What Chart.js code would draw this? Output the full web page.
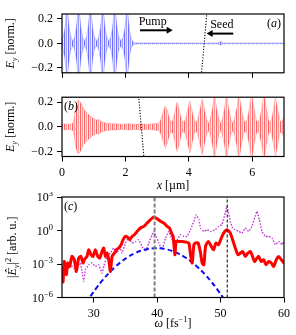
<!DOCTYPE html>
<html>
<head>
<meta charset="utf-8">
<script src="https://cdn.jsdelivr.net/npm/chart.js@4.4.1/dist/chart.umd.min.js"></script>
<style>
  html, body { margin: 0; padding: 0; background: #fff; }
  #wrap { position: relative; width: 296px; height: 335px; }
  canvas { position: absolute; left: 0; }
</style>
</head>
<body>
<div id="wrap">
  <canvas id="panelA" width="296" height="84" style="top:0px"></canvas>
  <canvas id="panelB" width="296" height="106" style="top:86px"></canvas>
  <canvas id="panelC" width="296" height="143" style="top:192px"></canvas>
</div>
<script>
// ---- panel (a): pump + seed field, envelope of E_y [norm.] vs x [um]
const pumpX = [0, 0.04, 0.09, 0.13, 0.158, 0.19, 0.23, 0.28, 0.34,
  0.40, 0.45, 0.49, 0.524, 0.56, 0.60, 0.65, 0.71,
  0.77, 0.82, 0.86, 0.894, 0.93, 0.97, 1.02, 1.09,
  1.16, 1.21, 1.25, 1.283, 1.32, 1.36, 1.41, 1.47,
  1.54, 1.59, 1.63, 1.662, 1.70, 1.74, 1.79, 1.86,
  1.93, 1.98, 2.02, 2.05, 2.09, 2.13, 2.18, 2.24, 2.30,
  4.90, 4.95, 5.00, 5.05, 5.10, 7.00];
const pumpAmp = [0.035, 0.055, 0.12, 0.22, 0.34, 0.22, 0.12, 0.05, 0.02,
  0.05, 0.12, 0.22, 0.34, 0.22, 0.12, 0.05, 0.02,
  0.05, 0.12, 0.22, 0.34, 0.22, 0.12, 0.05, 0.02,
  0.05, 0.12, 0.22, 0.34, 0.22, 0.12, 0.05, 0.02,
  0.05, 0.12, 0.22, 0.34, 0.22, 0.12, 0.05, 0.02,
  0.05, 0.12, 0.22, 0.32, 0.20, 0.10, 0.04, 0.012, 0.004,
  0.003, 0.008, 0.014, 0.008, 0.003, 0.003];
// dotted density profile (a)
const profAX = [0, 4.40, 4.49, 4.57];
const profAY = [-0.24, -0.24, 0.02, 0.25];

// ---- panel (b): transmitted / amplified field envelope
const sigX = [0, 0.1, 0.2, 0.3, 0.36, 0.40, 0.44, 0.49, 0.53, 0.58, 0.65, 0.72, 0.80, 0.90,
  1.00, 1.08, 1.15, 1.22, 1.30, 1.40, 1.55, 1.70, 1.90, 2.10, 2.30, 2.50, 2.70, 2.90, 3.05,
  3.12, 3.19, 3.26, 3.33, 3.40, 3.45,
  3.50, 3.57, 3.63, 3.70, 3.77, 3.83,
  3.89, 3.96, 4.03, 4.10, 4.17, 4.22,
  4.28, 4.35, 4.42, 4.49, 4.56, 4.61,
  4.67, 4.74, 4.81, 4.88, 4.95, 5.00,
  5.05, 5.12, 5.19, 5.26, 5.33, 5.38,
  5.44, 5.51, 5.58, 5.65, 5.72, 5.78,
  5.84, 5.91, 5.98, 6.05, 6.12, 6.17,
  6.23, 6.30, 6.37, 6.44, 6.51, 6.56,
  6.61, 6.67, 6.73, 6.80, 6.86, 6.91, 6.96, 7.00];
const sigAmp = [0.02, 0.025, 0.02, 0.025, 0.035, 0.10, 0.17, 0.21, 0.215, 0.20, 0.16, 0.13, 0.11, 0.085,
  0.065, 0.055, 0.06, 0.045, 0.035, 0.03, 0.025, 0.025, 0.02, 0.025, 0.02, 0.025, 0.02, 0.025, 0.03,
  0.06, 0.12, 0.17, 0.12, 0.055, 0.03,
  0.06, 0.13, 0.20, 0.13, 0.055, 0.03,
  0.06, 0.13, 0.21, 0.13, 0.055, 0.03,
  0.06, 0.14, 0.225, 0.14, 0.06, 0.03,
  0.06, 0.14, 0.26, 0.14, 0.06, 0.03,
  0.06, 0.14, 0.26, 0.14, 0.06, 0.03,
  0.06, 0.15, 0.27, 0.15, 0.06, 0.03,
  0.06, 0.15, 0.27, 0.15, 0.06, 0.03,
  0.06, 0.15, 0.27, 0.15, 0.06, 0.03,
  0.06, 0.14, 0.24, 0.14, 0.06, 0.035, 0.06, 0.09];
const profBX = [0, 2.42, 2.50, 2.58, 7.0];
const profBY = [0.24, 0.24, 0.0, -0.24, -0.24];

const xTicksAB = [0, 2, 4, 6];
const xTickLabelsAB = ['0', '2', '4', '6'];
const yTicksAB = [-0.2, 0, 0.2];
const yTickLabelsAB = ['\u22120.2', '0.0', '0.2'];

// ---- panel (c): spectra, log10 of |E_y|^2 [arb. u.] vs omega [fs^-1]
const redW = [25.0, 25.16, 25.36, 25.68, 25.89, 26.2, 26.57, 26.94, 27.26, 27.63, 27.99, 28.31,
  28.52, 28.94, 29.21, 29.58, 29.89, 30.26, 30.63, 30.94, 31.31, 31.58, 31.84, 32.1, 32.37,
  32.63, 32.9, 33.26, 33.58, 33.95, 34.32, 34.63, 35.0, 35.37, 35.68, 36.05, 36.42, 36.84,
  37.37, 37.9, 38.42, 38.95, 39.47, 40.0, 40.53, 41.05, 41.58, 41.95, 42.26, 42.53, 42.79,
  43.0, 43.42, 43.95, 44.47, 45.0, 45.26, 45.53, 45.79, 46.05, 46.47, 46.84, 47.1, 47.37,
  47.63, 48.05, 48.53, 48.9, 49.27, 49.69, 50.11, 50.48, 51.0, 51.53, 51.9, 52.32, 52.74,
  53.11, 53.48, 53.9, 54.32, 54.69, 54.95, 55.37, 55.74, 56.0, 56.42, 56.79, 57.16, 57.58,
  58.0, 58.37, 58.79, 59.16, 59.58, 60.0];
const redExp = [-3.5, -4.6, -2.77, -3.96, -2.91, -3.22, -2.32, -2.62, -3.67, -2.47, -2.32, -2.91,
  -2.62, -2.32, -1.72, -2.17, -2.32, -1.72, -2.32, -2.47, -1.87, -1.57, -2.32, -2.02, -2.62,
  -3.67, -2.32, -2.02, -1.72, -1.57, -1.27, -0.83, -0.53, -0.62, -0.83, -0.53, -0.38, -0.08,
  0.22, 0.37, 0.67, 0.97, 1.21, 1.06, 0.82, 0.67, 0.37, 0.22, -0.23, -0.53, -2.17,
  -0.98, -0.98, -0.98, -1.03, -1.12, -2.17, -2.91, -1.27, -1.12, -1.12, -2.02, -2.91, -3.07,
  -1.42, -0.98, -1.42, -1.72, -1.12, -1.27, -0.68, -0.23, 0.07, -0.23, -0.83, -1.57, -2.17,
  -2.02, -1.87, -2.32, -2.02, -1.87, -2.17, -2.77, -2.47, -2.32, -2.77, -2.62, -3.07, -2.77,
  -2.91, -3.22, -2.62, -2.32, -2.62, -2.91];
const magW = [25.26, 25.78, 26.31, 26.84, 27.36, 27.89, 28.15, 28.42, 28.68, 29.21, 29.73, 30.26,
  30.79, 31.31, 31.58, 32.1, 32.63, 33.15, 33.68, 34.1, 34.47, 35.0, 35.53, 36.05, 36.58, 37.1,
  37.63, 38.16, 38.68, 39.21, 39.47, 39.84, 40.26, 40.79, 41.32, 41.84, 42.26, 42.63, 43.16,
  43.68, 44.21, 44.74, 45.26, 45.79, 46.16, 46.58, 46.84, 47.37, 47.9, 48.42, 49.16, 49.69,
  50.21, 50.74, 51.0, 51.27, 51.53, 51.9, 52.32, 52.85, 53.37, 53.9, 54.42, 54.95, 55.37,
  55.74, 56.11, 56.53, 57.06, 57.58, 58.11, 58.63, 59.16, 59.69, 60.0];
const magExp = [-3.22, -3.67, -3.07, -3.37, -3.22, -2.91, -3.67, -4.56, -3.52, -3.07, -2.91, -3.22,
  -3.07, -3.82, -3.22, -2.32, -2.02, -1.57, -2.02, -1.42, -2.02, -1.12, -0.68, -1.12, -1.0, -0.83,
  -1.42, -1.87, -1.12, -0.38, -0.08, -0.53, -1.12, -1.72, -0.68, -0.08, -0.68, -1.12, -0.83,
  -0.38, -0.53, -0.53, 0.07, 0.82, 1.41, 0.97, 0.22, -0.08, 0.07, -0.08, 0.07, 0.37,
  0.52, 1.57, 2.16, 1.57, 0.82, 0.22, 0.07, -0.08, -0.23, 0.22, -0.08, 0.37, 1.12,
  1.71, 0.97, -0.08, -0.53, -0.53, -0.68, -1.27, -0.98, -1.27, -0.98];
const gaussW = [28.8, 29.5, 30.5, 31.5, 32.5, 33.5, 34.5, 35.5, 36.5, 37.5, 38.5, 39.5, 40.5,
  41.5, 42.5, 43.5, 44.5, 45.5, 46.5, 47.5, 48.5, 49.5, 50.5, 51.2];
const gaussExp = [-6.48, -5.88, -5.09, -4.38, -3.75, -3.20, -2.73, -2.34, -2.03, -1.80, -1.66, -1.59,
  -1.60, -1.69, -1.86, -2.11, -2.44, -2.85, -3.34, -3.91, -4.56, -5.29, -6.10, -6.71];
const markW = [39.6, 51.05];

const xTicksC = [30, 40, 50, 60];
const yTicksC = [1e-6, 1e-3, 1, 1e3];
const yTickExpC = ['\u22126', '\u22123', '0', '3'];

const FONT = 'Liberation Serif';
const FS = 12;

// draw a run of text pieces: style 'i' italic, 'b' subscript, 'p' superscript
function drawRich(ctx, segs, x, y, align) {
  let w = 0;
  const parts = segs.map(([t, st]) => {
    const small = st.includes('b') || st.includes('p');
    const font = (st.includes('i') ? 'italic ' : '') + (small ? FS * 0.7 : FS) + 'px "' + FONT + '"';
    ctx.font = font;
    const p = { t, font, x: w, dy: st.includes('b') ? FS * 0.25 : st.includes('p') ? -FS * 0.4 : 0 };
    w += ctx.measureText(t).width;
    return p;
  });
  const x0 = align === 'right' ? x - w : align === 'center' ? x - w / 2 : x;
  ctx.textAlign = 'left';
  ctx.textBaseline = 'alphabetic';
  ctx.fillStyle = '#000';
  parts.forEach(p => { ctx.font = p.font; ctx.fillText(p.t, x0 + p.x, y + p.dy); });
}

function drawArrow(ctx, x1, x2, y) {
  const dir = Math.sign(x2 - x1);
  ctx.save();
  ctx.strokeStyle = '#000';
  ctx.fillStyle = '#000';
  ctx.lineWidth = 2;
  ctx.beginPath();
  ctx.moveTo(x1, y);
  ctx.lineTo(x2 - dir * 5, y);
  ctx.stroke();
  ctx.beginPath();
  ctx.moveTo(x2, y);
  ctx.lineTo(x2 - dir * 6, y - 3.5);
  ctx.lineTo(x2 - dir * 6, y + 3.5);
  ctx.closePath();
  ctx.fill();
  ctx.restore();
}

// vertical striped fill, mimics the unresolved carrier oscillation
function stripes(colors) {
  const c = document.createElement('canvas');
  c.width = colors.length;
  c.height = 1;
  const g = c.getContext('2d');
  colors.forEach((col, i) => { g.fillStyle = col; g.fillRect(i, 0, 1, 1); });
  return g.createPattern(c, 'repeat');
}

const titleE = [['E', 'i'], ['y', 'ib'], [' [norm.]', '']];
const titleX = [['x', 'i'], [' [\u00b5m]', '']];
const titleSpec = [['|', ''], ['\u00ca', 'i'], ['y', 'ib'], ['|', ''], ['2', 'p'], [' [arb. u.]', '']];
const titleW = [['\u03c9', 'i'], [' [fs', ''], ['\u22121', 'p'], [']', '']];

function frame(extra) {
  return {
    id: 'frame',
    afterDraw(chart) {
      const { ctx, chartArea: a } = chart;
      ctx.save();
      ctx.strokeStyle = '#000';
      ctx.lineWidth = 1.2;
      ctx.strokeRect(a.left, a.top, a.right - a.left, a.bottom - a.top);
      extra(chart, ctx, a);
      ctx.restore();
    }
  };
}

function yTitle(ctx, segs, x, a) {
  ctx.save();
  ctx.translate(x, (a.top + a.bottom) / 2);
  ctx.rotate(-Math.PI / 2);
  drawRich(ctx, segs, 0, 0, 'center');
  ctx.restore();
}

function xScale(min, max, ticks, labels, height) {
  return {
    type: 'linear', min, max,
    afterBuildTicks: s => { s.ticks = ticks.map(v => ({ value: v })); },
    afterFit: s => { s.height = height; },
    grid: { drawOnChartArea: false, tickLength: 5, tickColor: '#000', tickWidth: 1 },
    border: { display: false },
    ticks: {
      display: !!labels, color: '#000', padding: 4, maxRotation: 0, autoSkip: false,
      font: { family: FONT, size: FS },
      callback: (v, i) => labels ? labels[i] : ''
    }
  };
}

function yLinScale() {
  return {
    type: 'linear', min: -0.24, max: 0.24,
    afterBuildTicks: s => { s.ticks = yTicksAB.map(v => ({ value: v })); },
    afterFit: s => { s.width = 62; },
    grid: { drawOnChartArea: false, tickLength: 5, tickColor: '#000', tickWidth: 1 },
    border: { display: false },
    ticks: {
      color: '#000', padding: 4, font: { family: FONT, size: FS },
      callback: (v, i) => yTickLabelsAB[i]
    }
  };
}

const common = {
  responsive: false, animation: false, devicePixelRatio: 1, events: [],
  plugins: { legend: { display: false }, tooltip: { enabled: false } },
  elements: { point: { radius: 0 }, line: { tension: 0 } }
};

function band(xs, amps, line, fillc) {
  return [
    { data: xs.map((x, i) => ({ x, y: amps[i] })), borderColor: line, backgroundColor: fillc,
      borderWidth: 0.6, fill: '+1' },
    { data: xs.map((x, i) => ({ x, y: -amps[i] })), borderColor: line, borderWidth: 0.6, fill: false }
  ];
}

function profile(xs, ys) {
  return { data: xs.map((x, i) => ({ x, y: ys[i] })), borderColor: '#000', borderWidth: 1.1,
    borderDash: [1.2, 1.6], fill: false };
}

const blueFill = stripes(['rgba(70,70,255,0.8)', 'rgba(160,160,255,0.4)', 'rgba(110,110,255,0.65)', 'rgba(200,200,255,0.3)']);
const redFill = stripes(['rgba(255,60,60,0.8)', 'rgba(255,160,160,0.4)', 'rgba(255,105,105,0.65)', 'rgba(255,200,200,0.3)']);

// panel (a)
new Chart(document.getElementById('panelA'), {
  type: 'line',
  data: { datasets: [profile(profAX, profAY), ...band(pumpX, pumpAmp, 'rgba(120,120,255,0.7)', blueFill)] },
  options: {
    ...common,
    layout: { padding: { left: 0, right: 12, top: 14, bottom: 0 } },
    scales: { x: xScale(0, 7, xTicksAB, null, 4), y: yLinScale() }
  },
  plugins: [frame((chart, ctx, a) => {
    const sx = chart.scales.x, sy = chart.scales.y;
    yTitle(ctx, titleE, 14, a);
    drawRich(ctx, [['(', ''], ['a', 'i'], [')', '']], a.right - 3, a.top + 13, 'right');
    drawRich(ctx, [['Pump', '']], sx.getPixelForValue(2.86), sy.getPixelForValue(0.148), 'center');
    drawRich(ctx, [['Seed', '']], sx.getPixelForValue(5.04), sy.getPixelForValue(0.124), 'center');
    drawArrow(ctx, sx.getPixelForValue(2.46), sx.getPixelForValue(3.49), sy.getPixelForValue(0.107));
    drawArrow(ctx, sx.getPixelForValue(5.40), sx.getPixelForValue(4.56), sy.getPixelForValue(0.080));
  })]
});

// panel (b)
new Chart(document.getElementById('panelB'), {
  type: 'line',
  data: { datasets: [profile(profBX, profBY), ...band(sigX, sigAmp, 'rgba(255,120,120,0.7)', redFill)] },
  options: {
    ...common,
    layout: { padding: { left: 0, right: 12, top: 4, bottom: 0 } },
    scales: { x: xScale(0, 7, xTicksAB, xTickLabelsAB, 35.5), y: yLinScale() }
  },
  plugins: [frame((chart, ctx, a) => {
    yTitle(ctx, titleE, 14, a);
    drawRich(ctx, [['(', ''], ['b', 'i'], [')', '']], a.left + 2, a.top + 13, 'left');
    drawRich(ctx, titleX, (a.left + a.right) / 2, 103, 'center');
  })]
});

// panel (c)
const pts = (ws, es) => ws.map((w, i) => ({ x: w, y: Math.pow(10, es[i]) }));
const vline = (w, color, width, dash) => ({
  data: [{ x: w, y: 1e-6 }, { x: w, y: 1e3 }], borderColor: color, borderWidth: width, borderDash: dash, fill: false
});
new Chart(document.getElementById('panelC'), {
  type: 'line',
  data: {
    datasets: [
      vline(markW[0], '#808080', 2, [4, 2]),
      vline(markW[1], '#000', 1, [3, 2]),
      { data: pts(redW, redExp), borderColor: '#ff0000', borderWidth: 3, tension: 0.2,
        borderJoinStyle: 'round', borderCapStyle: 'round', fill: false },
      { data: pts(gaussW, gaussExp), borderColor: '#1010f0', borderWidth: 2, borderDash: [5, 3],
        tension: 0.4, fill: false },
      { data: pts(magW, magExp), borderColor: 'rgba(195,40,215,0.95)', borderWidth: 1.4,
        borderDash: [1.5, 1.5], tension: 0.1, fill: false }
    ]
  },
  options: {
    ...common,
    layout: { padding: { left: 0, right: 12, top: 5, bottom: 0 } },
    scales: {
      x: xScale(25, 60, xTicksC, xTicksC.map(String), 37.5),
      y: {
        type: 'logarithmic', min: 1e-6, max: 1e3,
        afterBuildTicks: s => { s.ticks = yTicksC.map(v => ({ value: v })); },
        afterFit: s => { s.width = 62; },
        grid: { drawOnChartArea: false, tickLength: 5, tickColor: '#000', tickWidth: 1 },
        border: { display: false },
        ticks: { display: false }
      }
    }
  },
  plugins: [frame((chart, ctx, a) => {
    const sy = chart.scales.y;
    yTicksC.forEach((v, i) => {
      drawRich(ctx, [['10', ''], [yTickExpC[i], 'p']], 53, sy.getPixelForValue(v) + 4, 'right');
    });
    yTitle(ctx, titleSpec, 16, a);
    drawRich(ctx, [['(', ''], ['c', 'i'], [')', '']], a.left + 2, a.top + 13, 'left');
    drawRich(ctx, titleW, (a.left + a.right) / 2, 135, 'center');
  })]
});
</script>
</body>
</html>
